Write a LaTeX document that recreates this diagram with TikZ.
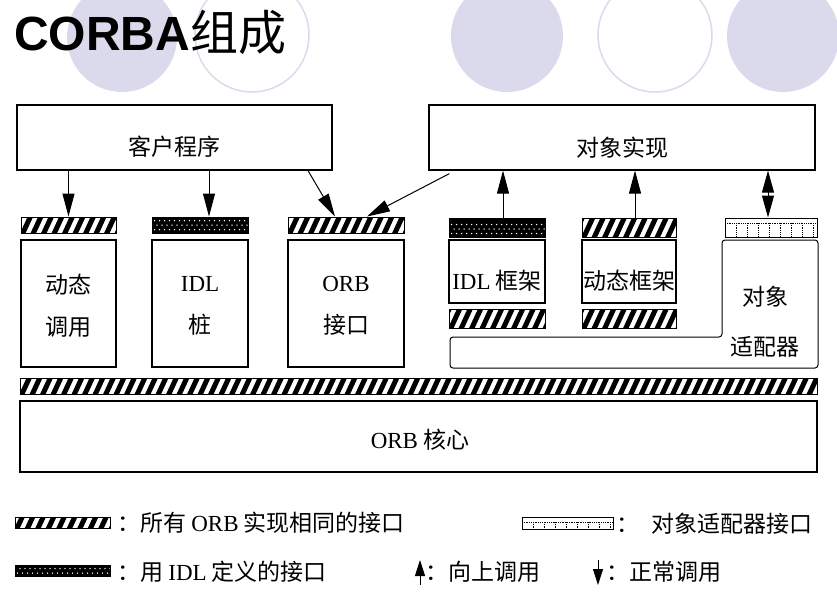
\documentclass[tikz,border=0pt]{standalone}
\usepackage{fontspec}
\setmainfont{Liberation Serif}
\newfontfamily\cjk{Noto Sans CJK SC}
\newfontfamily\headsans{Liberation Sans}
\usetikzlibrary{arrows.meta}
\definecolor{lavender}{RGB}{218,218,236}

\begin{document}
\begin{tikzpicture}[x=1pt,y=-1pt,
    box/.style={draw, line width=1.2pt, inner sep=0pt},
    lbl/.style={inner sep=0pt, font=\cjk\fontsize{23}{42}\selectfont, align=center},
    orbif/.style={draw, line width=1pt, fill=white, inner sep=0pt,
      path picture={\foreach \k in {0,...,80}
        \draw[line width=5pt] ([xshift=\k*10.5pt-10pt, yshift=-3pt]path picture bounding box.south west) -- ++(12pt,26pt);}},
    idlif/.style={draw, line width=1pt, fill=black, inner sep=0pt,
      path picture={\foreach \k in {0,...,20} \foreach \r/\off in {0/0,1/2.5,2/0}
        \fill[white] ([xshift=\k*5pt+\off*1pt+2.5pt, yshift=\r*4.5pt+3.5pt]path picture bounding box.south west) circle (0.75pt);}},
    oaif/.style={draw, line width=1pt, fill=white, inner sep=0pt,
      path picture={
        \draw[densely dotted, line width=0.8pt] ([yshift=-5pt]path picture bounding box.north west) -- ([yshift=-5pt]path picture bounding box.north east);
        \foreach \k in {1,...,8}
          \draw[densely dotted, line width=0.8pt] ([xshift=\k*11pt, yshift=-5pt]path picture bounding box.north west) -- ([xshift=\k*11pt]path picture bounding box.south west);}},
    call/.style={line width=1pt, -{Triangle[length=23pt,width=12pt]}},
    mark call/.style={line width=1pt, -{Triangle[length=16pt,width=10pt]}}]
  \useasboundingbox (0,0) rectangle (837,608);
  \clip (0,0) rectangle (837,608);

  % background circles and title
  \fill[lavender] (122,37) circle (55pt);
  \draw[lavender, line width=1.5pt] (252,35) circle (57pt);
  \fill[lavender] (507,36) circle (56pt);
  \draw[lavender, line width=1.5pt] (655,35) circle (57pt);
  \fill[lavender] (783,36) circle (56pt);
  \node[anchor=base west, inner sep=0pt, font=\headsans\bfseries\fontsize{48}{50}\selectfont] (title) at (14,50) {CORBA{\cjk\mdseries 组成}};

  % top boxes
  \node[box, minimum width=315, minimum height=65] (client) at (174.5,137.5) {};
  \node[box, minimum width=386, minimum height=65] (impl) at (622,137.5) {};
  \node[lbl] (clienttxt) at (174,147) {客户程序};
  \node[lbl] (impltxt) at (622,148) {对象实现};

  % client side
  \node[orbif, minimum width=95, minimum height=16] (diibar) at (68.5,225) {};
  \node[idlif, minimum width=96, minimum height=16] (stubbar) at (200,225) {};
  \node[orbif, minimum width=116, minimum height=16] (orbibar) at (346,225) {};
  \node[box, minimum width=95, minimum height=127] (dii) at (68.5,303.5) {};
  \node[box, minimum width=96, minimum height=127] (stub) at (200,303.5) {};
  \node[box, minimum width=116, minimum height=127] (orbi) at (346,303.5) {};
  \node[lbl] (diitxt) at (68,306) {动态\\调用};
  \node[lbl] (stubtxt) at (200,306) {{\rmfamily IDL}\\桩};
  \node[lbl] (orbitxt) at (346,306) {{\rmfamily ORB}\\接口};

  % server side
  \node[idlif, minimum width=96, minimum height=19] (skelbar) at (497,227.5) {};
  \node[orbif, minimum width=94, minimum height=19] (dsibar) at (629,227.5) {};
  \node[oaif, minimum width=92, minimum height=19] (oabar) at (771,227.5) {};
  \node[box, minimum width=96, minimum height=63] (skel) at (497,271.5) {};
  \node[box, minimum width=94, minimum height=63] (dsi) at (629,271.5) {};
  \node[orbif, minimum width=96, minimum height=19] (skellow) at (497,318.5) {};
  \node[orbif, minimum width=94, minimum height=19] (dsilow) at (629,318.5) {};
  \node[lbl] (skeltxt) at (497,281) {{\rmfamily IDL} 框架};
  \node[lbl] (dsitxt) at (629,281) {动态框架};
  \draw[line width=1pt, rounded corners=3pt] (722,240) -- (818,240) -- (818,368) -- (450,368) -- (450,337) -- (722,337) -- cycle;
  \node[lbl, font=\cjk\fontsize{23}{50}\selectfont] (oatxt) at (765,322) {对象\\适配器};

  % core
  \node[orbif, minimum width=797, minimum height=16] (corebar) at (418.5,386) {};
  \node[box, line width=1.5pt, minimum width=797, minimum height=71] (core) at (418.5,436.5) {};
  \node[lbl] (coretxt) at (420,440) {{\rmfamily ORB} 核心};

  % calls
  \draw[call] (diibar.north |- client.south) -- (diibar.north);
  \draw[call] ([xshift=9pt]stubbar.north |- client.south) -- ([xshift=9pt]stubbar.north);
  \draw[call] ([xshift=133.5pt]client.south) -- ([xshift=-11pt]orbibar.north);
  \draw[call] ([xshift=21pt, yshift=-3pt]impl.south west) -- ([xshift=21pt]orbibar.north);
  \draw[call] ([xshift=6pt]skelbar.north) -- ([xshift=6pt]skelbar.north |- impl.south);
  \draw[call] ([xshift=6pt]dsibar.north) -- ([xshift=6pt]dsibar.north |- impl.south);
  \draw[call, {Triangle[length=22pt,width=12pt]}-{Triangle[length=22pt,width=12pt]}] ([xshift=-3pt]oabar.north) -- ([xshift=-3pt]oabar.north |- impl.south);

  % legend
  \node[orbif, minimum width=95, minimum height=11] (keyorb) at (62.5,523) {};
  \node[lbl, anchor=west] (keyorbtxt) at (117,523) {：所有 {\rmfamily ORB} 实现相同的接口};
  \node[idlif, minimum width=95, minimum height=11] (keyidl) at (62.5,571) {};
  \node[lbl, anchor=west] (keyidltxt) at (117,572) {：用 {\rmfamily IDL} 定义的接口};
  \node[oaif, minimum width=91, minimum height=12] (keyoa) at (567.5,523) {};
  \node[lbl, anchor=west] (keyoatxt) at (616,524) {：\hspace{12pt}对象适配器接口};
  \coordinate (upfrom) at (420,585);
  \coordinate (upto) at (420,560);
  \draw[mark call] (upfrom) -- (upto);
  \node[lbl, anchor=west] (keyuptxt) at (425,572) {：向上调用};
  \coordinate (downfrom) at (598,560);
  \coordinate (downto) at (598,585);
  \draw[mark call] (downfrom) -- (downto);
  \node[lbl, anchor=west] (keydowntxt) at (606,572) {：正常调用};
\end{tikzpicture}
\end{document}
